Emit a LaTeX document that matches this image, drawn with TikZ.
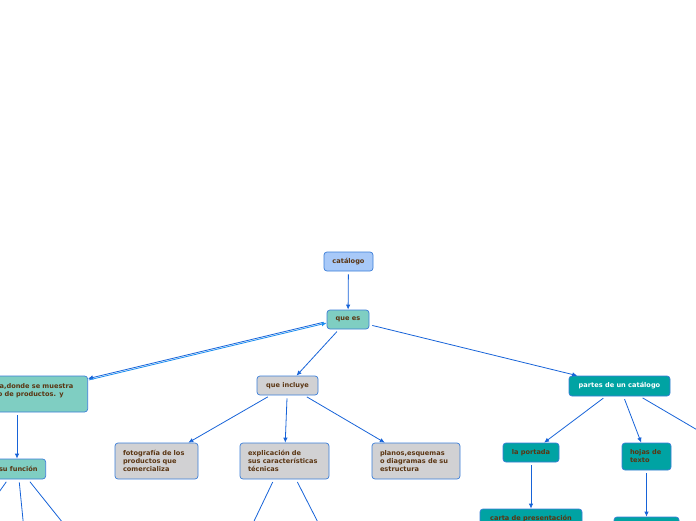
\documentclass[tikz,border=0pt]{standalone}
\usepackage{fontspec}
\setsansfont{DejaVu Sans}
\usetikzlibrary{arrows.meta,positioning,calc}
\definecolor{edgeblue}{HTML}{1763D8}
\definecolor{lightedge}{HTML}{1C8EF0}
\definecolor{boxline}{HTML}{3A7DD8}
\definecolor{txtbrown}{HTML}{5A3512}
\definecolor{rootblue}{HTML}{A8C9F8}
\definecolor{mint}{HTML}{7FCEC2}
\definecolor{greybox}{HTML}{D1D1D3}
\definecolor{tealbox}{HTML}{00A3A3}
\tikzset{
  box/.style={rectangle, rounded corners=3pt, draw=boxline, line width=0.7pt,
    text=txtbrown, font=\sffamily\bfseries\fontsize{6.6}{8}\selectfont,
    inner xsep=8pt, inner ysep=2pt},
  rootbox/.style={box, fill=rootblue},
  mintbox/.style={box, fill=mint},
  greynode/.style={box, fill=greybox},
  tealnode/.style={box, fill=tealbox},
  multi/.style={align=left, minimum height=36pt},
  arr/.style={-{Latex[length=5pt,width=4.5pt]}, edgeblue, line width=0.8pt, shorten <=3pt},
  arrlight/.style={-{Latex[length=5pt,width=4.5pt]}, lightedge, line width=0.8pt, shorten <=1pt},
  link/.style={edgeblue, line width=0.8pt, shorten <=3pt},
}

\begin{document}
\begin{tikzpicture}[x=1pt, y=-1pt]
\useasboundingbox (0,0) rectangle (696,520);
\clip (0,0) rectangle (696,520);

% ---------------- TOP ----------------
\node[rootbox, minimum width=49pt, minimum height=19pt] (n-catalogo) at (348.5,261.5) {catálogo};
\node[mintbox, minimum width=42pt, minimum height=19pt] (n-quees) at (348,319.5) {que es};

% ---------------- LEFT BRANCH ----------------
\node[mintbox, multi, text width=84pt, anchor=east] (n-def) at (88,394)
  {sa,donde se muestra\\lo de productos. y\\~};
\node[mintbox, minimum height=20pt, anchor=east] (n-func) at (46,469) {su función};

% ---------------- MIDDLE BRANCH ----------------
\node[greynode, minimum width=61pt, minimum height=19pt] (n-incluye) at (287.5,385.5) {que incluye};
\node[greynode, multi, text width=67pt] (n-foto) at (156.5,461)
  {fotografía de los\\productos que\\comercializa};
\node[greynode, multi, text width=73pt] (n-explic) at (284.5,461)
  {explicación de\\sus características\\técnicas};
\node[greynode, multi, text width=72pt] (n-planos) at (416,461)
  {planos,esquemas\\o diagramas de su\\estructura};

% ---------------- RIGHT BRANCH ----------------
\node[tealnode, text=white, minimum width=101pt, minimum height=20pt] (n-partes) at (619.5,386) {partes de un catálogo};
\node[tealnode, minimum width=56pt, minimum height=19pt] (n-portada) at (531,452.5) {la portada};
\node[tealnode, align=left, text width=33pt, minimum height=27pt] (n-hojas) at (646.5,456.5) {hojas de\\texto};
\node[tealnode, minimum width=102pt, minimum height=20pt] (n-carta) at (531,519) {carta de presentación};
\node[tealnode, minimum width=65pt, minimum height=20pt] (n-hojasub) at (646.5,527) {};

% ---- children beyond the frame ----
\coordinate (c-func1) at (-10,505);
\coordinate (c-func2) at (25,540);
\coordinate (c-func3) at (75,538);
\coordinate (c-explic1) at (245,540);
\coordinate (c-explic2) at (327,540);
\coordinate (c-partes3) at (740,455);

% ================= ARROWS =================
\draw[arr] (n-catalogo) -- (n-quees);
\draw[arr] ([yshift=-2pt]n-quees.west) -- ([yshift=-3pt]n-def.north east);
\draw[arrlight] ([yshift=-4.5pt]n-def.north east) -- ([yshift=-3.5pt]n-quees.west);
\draw[arr] (n-quees) -- (n-incluye);
\draw[arr] (n-quees) -- (n-partes);

\draw[arr] (n-def.south -| 17,0) -- (n-func.north -| 17,0);
\draw[link] (n-func.south -| 8,0) -- (c-func1);
\draw[link] (n-func.south -| 19,0) -- (c-func2);
\draw[link] (n-func.south -| 28,0) -- (c-func3);

\draw[arr] (n-incluye) -- (n-foto);
\draw[arr] (n-incluye) -- (n-explic);
\draw[arr] (n-incluye) -- (n-planos);
\draw[link] (n-explic.south -| 274,0) -- (c-explic1);
\draw[link] (n-explic.south -| 296,0) -- (c-explic2);

\draw[arr] (n-partes) -- (n-portada);
\draw[arr] (n-partes) -- (n-hojas);
\draw[link] (n-partes.south -| 640,0) -- (c-partes3);
\draw[arr] (n-portada) -- (n-carta);
\draw[arr] (n-hojas) -- (n-hojasub);

\end{tikzpicture}
\end{document}
